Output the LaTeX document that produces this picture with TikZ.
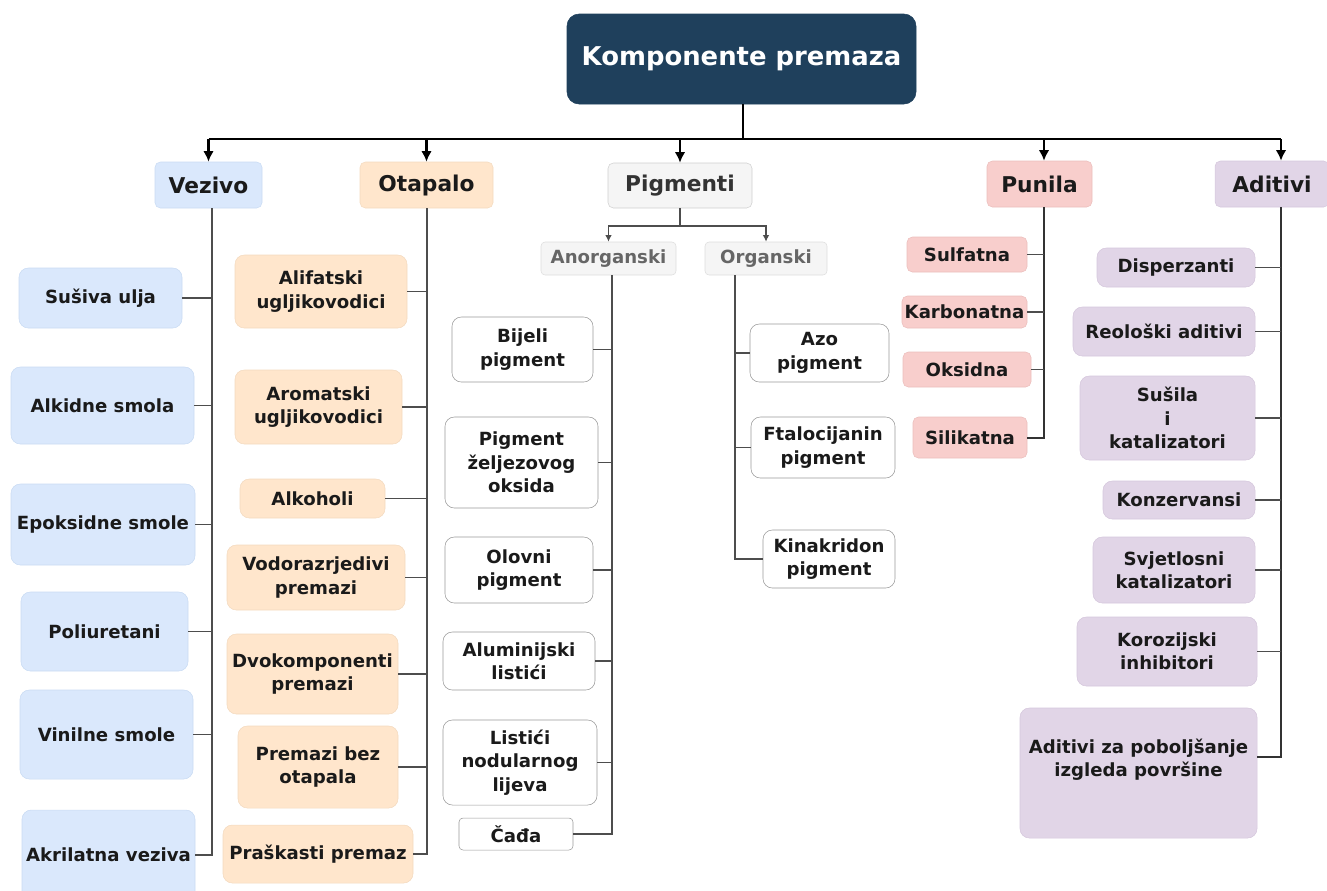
\documentclass[tikz,border=0pt]{standalone}
\usepackage{fontspec}
\setmainfont{DejaVu Sans}
\usetikzlibrary{arrows.meta,positioning}

\definecolor{titlefill}{HTML}{1F405C}
\definecolor{vezfill}{HTML}{DAE8FC}
\definecolor{vezline}{HTML}{C9DBF3}
\definecolor{otafill}{HTML}{FFE6CC}
\definecolor{otaline}{HTML}{F3DABF}
\definecolor{pigfill}{HTML}{F5F5F5}
\definecolor{pigline}{HTML}{CFCFCF}
\definecolor{punfill}{HTML}{F8CECC}
\definecolor{punline}{HTML}{EBBDBB}
\definecolor{adifill}{HTML}{E1D5E7}
\definecolor{adiline}{HTML}{D5C7DC}
\definecolor{textdark}{HTML}{1A1A1A}
\definecolor{linkgray}{HTML}{4D4D4D}

\begin{document}
\begin{tikzpicture}[x=0.75pt,y=-0.75pt,
	wh/.style 2 args={minimum width=#1*0.75pt,minimum height=#2*0.75pt},
	title/.style={rectangle,rounded corners=9pt,fill=titlefill,draw=titlefill,text=white,inner sep=0pt,font=\fontsize{19.4}{23}\selectfont\bfseries},
	head/.style={rectangle,rounded corners=4pt,align=center,inner sep=0pt,text=textdark,font=\fontsize{16.3}{19}\selectfont\bfseries},
	item/.style={rectangle,rounded corners=7pt,align=center,inner sep=0pt,text=textdark,font=\fontsize{13.6}{17.5}\selectfont\bfseries},
	vez/.style={fill=vezfill,draw=vezline},
	ota/.style={fill=otafill,draw=otaline},
	pig/.style={fill=pigfill,draw=pigline,text=black!80},
	pigsub/.style={fill=pigfill,draw=pigline!70,text=black!60,rounded corners=3pt},
	pigitem/.style={fill=white,draw=black!40},
	pun/.style={fill=punfill,draw=punline},
	adi/.style={fill=adifill,draw=adiline},
	bus/.style={line width=2pt,draw=black},
	busarrow/.style={bus,-{Latex[length=8pt,width=8pt]}},
	sublinks/.style={line width=1.2pt,draw=linkgray,-{Latex[length=5pt,width=5pt]}},
	spine/.style={line width=0.9pt,draw=linkgray},
	thickspine/.style={line width=1.5pt,draw=black!80},
	branch/.style={line width=1.2pt,draw=linkgray}]

	\useasboundingbox (0,0) rectangle (1327,890);

	\node[title, wh={349}{90}] (komponente) at (741.5,59) {Komponente premaza};

	% main groups
	\node[head, vez, wh={107}{46}] (vezivo) at (208.5,185) {Vezivo};
	\node[head, ota, wh={133}{46}] (otapalo) at (426.5,185) {Otapalo};
	\node[head, pig, wh={144}{45}] (pigmenti) at (680,185.5) {Pigmenti};
	\node[head, pun, wh={105}{46}] (punila) at (1039.5,184) {Punila};
	\node[head, adi, wh={114}{46}] (aditivi) at (1272,184) {Aditivi};

	\coordinate (bus) at (743,139);
	\coordinate (punila-spine) at (1044,0);
	\coordinate (aditivi-spine) at (1281,0);
	\draw[bus] (komponente.south -| bus) -- (bus);
	\draw[bus] (vezivo.north |- bus) -- (aditivi-spine |- bus);
	\draw[busarrow] (vezivo.north |- bus) -- (vezivo.north);
	\draw[busarrow] (otapalo.north |- bus) -- (otapalo.north);
	\draw[busarrow] (pigmenti.north |- bus) -- (pigmenti.north);
	\draw[busarrow] (punila-spine |- bus) -- (punila-spine |- punila.north);
	\draw[busarrow] (aditivi-spine |- bus) -- (aditivi-spine |- aditivi.north);

	% Vezivo
	\node[item, vez, wh={163}{60}] (susiva) at (100.5,298) {Sušiva ulja};
	\node[item, vez, wh={183}{77}] (alkidne) at (102.5,405.5) {Alkidne smola};
	\node[item, vez, wh={184}{81}] (epoksidne) at (103,524.5) {Epoksidne smole};
	\node[item, vez, wh={167}{79}] (poliuretani) at (104.5,631.5) {Poliuretani};
	\node[item, vez, wh={173}{89}] (vinilne) at (106.5,734.5) {Vinilne smole};
	\node[item, vez, wh={173}{90}] (akrilatna) at (108.5,855) {Akrilatna veziva};

	\coordinate (vezivo-spine) at (212,0);
	\draw[spine] (vezivo.south -| vezivo-spine) |- (akrilatna.east);
	\draw[branch] (susiva.east) -- (susiva.east -| vezivo-spine);
	\draw[branch] (alkidne.east) -- (alkidne.east -| vezivo-spine);
	\draw[branch] (epoksidne.east) -- (epoksidne.east -| vezivo-spine);
	\draw[branch] (poliuretani.east) -- (poliuretani.east -| vezivo-spine);
	\draw[branch] (vinilne.east) -- (vinilne.east -| vezivo-spine);

	% Otapalo
	\node[item, ota, wh={172}{73}] (alifatski) at (321,291.5) {Alifatski\\ugljikovodici};
	\node[item, ota, wh={167}{74}] (aromatski) at (318.5,407) {Aromatski\\ugljikovodici};
	\node[item, ota, wh={145}{39}] (alkoholi) at (312.5,498.5) {Alkoholi};
	\node[item, ota, wh={178}{65}] (vodorazrjedivi) at (316,577.5) {Vodorazrjedivi\\premazi};
	\node[item, ota, wh={171}{80}] (dvokomponenti) at (312.5,674) {Dvokomponenti\\premazi};
	\node[item, ota, wh={160}{82}] (bez-otapala) at (318,767) {Premazi bez\\otapala};
	\node[item, ota, wh={190}{58}] (praskasti) at (318,854) {Praškasti premaz};

	\coordinate (otapalo-spine) at (427,0);
	\draw[spine] (otapalo.south -| otapalo-spine) |- (praskasti.east);
	\draw[branch] (alifatski.east) -- (alifatski.east -| otapalo-spine);
	\draw[branch] (aromatski.east) -- (aromatski.east -| otapalo-spine);
	\draw[branch] (alkoholi.east) -- (alkoholi.east -| otapalo-spine);
	\draw[branch] (vodorazrjedivi.east) -- (vodorazrjedivi.east -| otapalo-spine);
	\draw[branch] (dvokomponenti.east) -- (dvokomponenti.east -| otapalo-spine);
	\draw[branch] (bez-otapala.east) -- (bez-otapala.east -| otapalo-spine);

	% Pigmenti
	\node[item, pigsub, wh={135}{33}] (anorganski) at (608.5,258.5) {Anorganski};
	\node[item, pigsub, wh={122}{33}] (organski) at (766,258.5) {Organski};
	\draw[sublinks] (pigmenti.south) -- ++(0,18) -| (anorganski.north);
	\draw[sublinks] (pigmenti.south) -- ++(0,18) -| (organski.north);

	\node[item, pigitem, wh={141}{65}] (bijeli) at (522.5,349.5) {Bijeli\\pigment};
	\node[item, pigitem, wh={153}{91}] (zeljezovog) at (521.5,462.5) {Pigment\\željezovog\\oksida};
	\node[item, pigitem, wh={148}{66}] (olovni) at (519,570) {Olovni\\pigment};
	\node[item, pigitem, wh={152}{58}] (aluminijski) at (519,661) {Aluminijski\\listići};
	\node[item, pigitem, wh={154}{85}] (nodularnog) at (520,762.5) {Listići\\nodularnog\\lijeva};
	\node[item, pigitem, rounded corners=3pt, wh={114}{32}] (cada) at (516,834) {Čađa};

	\coordinate (anorganski-spine) at (612,0);
	\draw[spine] (anorganski.south -| anorganski-spine) |- (cada.east);
	\draw[branch] (bijeli.east) -- (bijeli.east -| anorganski-spine);
	\draw[branch] (zeljezovog.east) -- (zeljezovog.east -| anorganski-spine);
	\draw[branch] (olovni.east) -- (olovni.east -| anorganski-spine);
	\draw[branch] (aluminijski.east) -- (aluminijski.east -| anorganski-spine);
	\draw[branch] (nodularnog.east) -- (nodularnog.east -| anorganski-spine);

	\node[item, pigitem, wh={139}{58}] (azo) at (819.5,353) {Azo\\pigment};
	\node[item, pigitem, wh={144}{61}] (ftalocijanin) at (823,447.5) {Ftalocijanin\\pigment};
	\node[item, pigitem, wh={132}{58}] (kinakridon) at (829,559) {Kinakridon\\pigment};

	\coordinate (organski-spine) at (735,0);
	\draw[spine] (organski.south -| organski-spine) |- (kinakridon.west);
	\draw[branch] (azo.west) -- (azo.west -| organski-spine);
	\draw[branch] (ftalocijanin.west) -- (ftalocijanin.west -| organski-spine);

	% Punila
	\node[item, pun, rounded corners=4pt, wh={120}{35}] (sulfatna) at (967,254.5) {Sulfatna};
	\node[item, pun, rounded corners=4pt, wh={125}{32}] (karbonatna) at (964.5,312) {Karbonatna};
	\node[item, pun, rounded corners=4pt, wh={128}{35}] (oksidna) at (967,369.5) {Oksidna};
	\node[item, pun, rounded corners=4pt, wh={114}{41}] (silikatna) at (970,437.5) {Silikatna};

	\draw[thickspine] (punila.south -| punila-spine) |- (silikatna.east);
	\draw[branch] (sulfatna.east) -- (sulfatna.east -| punila-spine);
	\draw[branch] (karbonatna.east) -- (karbonatna.east -| punila-spine);
	\draw[branch] (oksidna.east) -- (oksidna.east -| punila-spine);

	% Aditivi
	\node[item, adi, wh={158}{39}] (disperzanti) at (1176,267.5) {Disperzanti};
	\node[item, adi, wh={182}{49}] (reoloski) at (1164,331.5) {Reološki aditivi};
	\node[item, adi, wh={175}{84}] (susila) at (1167.5,418) {Sušila\\i\\katalizatori};
	\node[item, adi, wh={152}{38}] (konzervansi) at (1179,500) {Konzervansi};
	\node[item, adi, wh={162}{66}] (svjetlosni) at (1174,570) {Svjetlosni\\katalizatori};
	\node[item, adi, wh={180}{69}] (korozijski) at (1167,651.5) {Korozijski\\inhibitori};
	\node[item, adi, wh={237}{130}] (izgled) at (1138.5,773)
		{\raisebox{9.75pt}[\height][\depth]{\begin{tabular}{@{}c@{}}Aditivi za poboljšanje\\izgleda površine\end{tabular}}};

	\draw[thickspine] (aditivi.south -| aditivi-spine) |- ([yshift=12pt]izgled.east);
	\draw[branch] (disperzanti.east) -- (disperzanti.east -| aditivi-spine);
	\draw[branch] (reoloski.east) -- (reoloski.east -| aditivi-spine);
	\draw[branch] (susila.east) -- (susila.east -| aditivi-spine);
	\draw[branch] (konzervansi.east) -- (konzervansi.east -| aditivi-spine);
	\draw[branch] (svjetlosni.east) -- (svjetlosni.east -| aditivi-spine);
	\draw[branch] (korozijski.east) -- (korozijski.east -| aditivi-spine);

\end{tikzpicture}
\end{document}
